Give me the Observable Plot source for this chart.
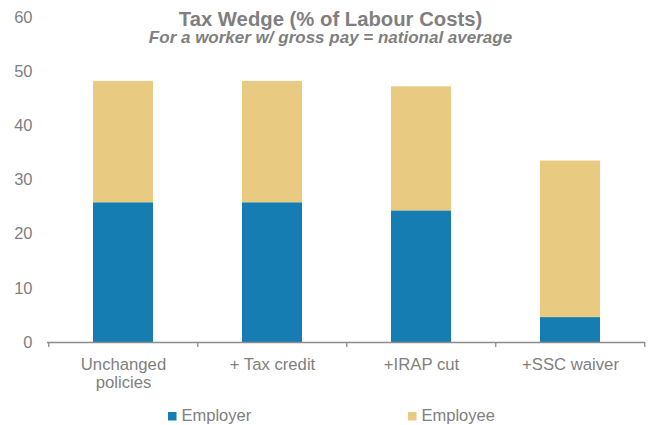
<!DOCTYPE html>
<html>
<head>
<meta charset="utf-8">
<script src="https://cdn.jsdelivr.net/npm/d3@7"></script>
<script src="https://cdn.jsdelivr.net/npm/@observablehq/plot@0.6"></script>
<style>
  html, body { margin: 0; padding: 0; background: #fff; }
  #chart { width: 654px; height: 425px; }
</style>
</head>
<body>
<div id="chart"></div>
<script>
// ---- data ----
const categories = ["Unchanged policies", "+ Tax credit", "+IRAP cut", "+SSC waiver"];
const categoryLabels = ["Unchanged\npolicies", "+ Tax credit", "+IRAP cut", "+SSC waiver"];
const components = ["Employer", "Employee"];
const employer = [25.8, 25.8, 24.3, 4.6];
const employee = [22.4, 22.4, 22.9, 28.9];
const yTicks = [0, 10, 20, 30, 40, 50, 60];
const colors = ["#167db3", "#e8ca80"];
const title = "Tax Wedge (% of Labour Costs)";
const subtitle = "For a worker w/ gross pay = national average";

// ---- table ----
const rows = [];
categories.forEach((c, i) => {
  rows.push({category: c, component: "Employer", value: employer[i]});
  rows.push({category: c, component: "Employee", value: employee[i]});
});

const W = 654, H = 425;
const mL = 47, mR = 9, mT = 17, mB = 83;
const step = (W - mL - mR) / categories.length;
const pxPerUnit = (H - mT - mB) / 60;
const gray = "#7f7f7f";
const font = "'Liberation Sans', Arial, Helvetica, sans-serif";

const plot = Plot.plot({
  width: W,
  height: H,
  marginLeft: mL,
  marginRight: mR,
  marginTop: mT,
  marginBottom: mB,
  style: {fontFamily: font, fontSize: "16px", color: gray, background: "#fff"},
  x: {domain: categories, paddingInner: 0.6, paddingOuter: 0.3, label: null},
  y: {domain: [0, 60], label: null},
  color: {domain: components, range: colors},
  marks: [
    Plot.barY(rows, Plot.stackY({
      x: "category", y: "value", fill: "component", order: components
    })),
    Plot.ruleY([0], {stroke: "#8c8c8c", strokeWidth: 1.3}),
    Plot.ruleX(categories, {x: d => d, y1: 0, y2: -5 / pxPerUnit, dx: -step / 2, stroke: "#8c8c8c", strokeWidth: 1.3}),
    Plot.ruleX(categories.slice(-1), {x: d => d, y1: 0, y2: -5 / pxPerUnit, dx: step / 2 - 0.5, stroke: "#8c8c8c", strokeWidth: 1.3}),
    Plot.axisY({ticks: yTicks, tickSize: 0, tickPadding: 15, fontSize: 16.5, label: null}),
    Plot.axisX({
      tickSize: 0, tickPadding: 14, fontSize: 16.7, lineHeight: 1.1, label: null,
      tickFormat: d => categoryLabels[categories.indexOf(d)]
    })
  ]
});

document.getElementById("chart").appendChild(plot);

// ---- title, subtitle and legend as real SVG text ----
const svg = d3.select(plot);
svg.append("text")
  .attr("x", 330.5).attr("y", 26)
  .attr("text-anchor", "middle")
  .attr("fill", gray)
  .style("font-family", font)
  .style("font-size", "20.3px")
  .style("font-weight", "bold")
  .text(title);
svg.append("text")
  .attr("x", 330.5).attr("y", 43)
  .attr("text-anchor", "middle")
  .attr("fill", gray)
  .style("font-family", font)
  .style("font-size", "17px")
  .style("font-weight", "bold")
  .style("font-style", "italic")
  .text(subtitle);

const legendX = [168, 408];
components.forEach((c, i) => {
  svg.append("rect")
    .attr("x", legendX[i]).attr("y", 412)
    .attr("width", 8.5).attr("height", 8.5)
    .attr("fill", colors[i]);
  svg.append("text")
    .attr("x", legendX[i] + 13.5).attr("y", 421)
    .attr("text-anchor", "start")
    .attr("fill", gray)
    .style("font-family", font)
    .style("font-size", "16.5px")
    .text(c);
});
</script>
</body>
</html>
